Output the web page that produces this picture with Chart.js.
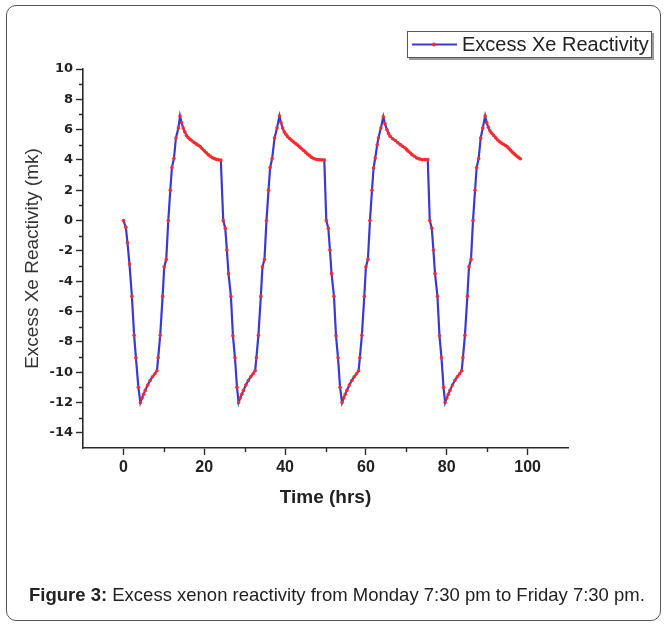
<!DOCTYPE html>
<html>
<head>
<meta charset="utf-8">
<script src="https://cdn.jsdelivr.net/npm/chart.js@4.4.1/dist/chart.umd.min.js"></script>
<style>
  html, body { margin: 0; padding: 0; background: #ffffff; }
  #wrap { position: relative; width: 668px; height: 626px; overflow: hidden; background: #fff; }
  #frame { position: absolute; left: 6px; top: 5px; width: 655px; height: 616px; border: 1px solid #555; border-radius: 10px; box-sizing: border-box; }
  #chart { position: absolute; left: 0; top: 0; }
  #caption { position: absolute; left: 29px; top: 585px; font-family: "Liberation Sans", Arial, sans-serif; font-size: 18.5px; line-height: 20px; color: #222; white-space: nowrap; }
  #caption b { font-weight: bold; }
</style>
</head>
<body>
<div id="wrap">
  <div id="frame"></div>
  <canvas id="chart" width="668" height="626"></canvas>
  <div id="caption"><b>Figure 3:</b> Excess xenon reactivity from Monday 7:30 pm to Friday 7:30 pm.</div>
</div>
<script>
// ---- data ----
const seriesLabel = 'Excess Xe Reactivity';
const xTitle = 'Time (hrs)';
const yTitle = 'Excess Xe Reactivity (mk)';

const timeHrs = [
  0, 0.6, 1.0, 1.5, 2.1, 2.65, 3.1, 3.7, 4.2,
  4.6, 5.0, 5.4, 6.0, 6.6, 7.2, 7.8, 8.3,
  8.6, 9.1, 9.7, 10.1, 10.6, 11.1, 11.6, 12.0, 12.5, 13.0, 13.6, 14.0,
  14.4, 14.8, 15.2, 15.6, 16.0, 16.5, 17.0, 17.5, 18.0, 18.5, 19.0, 19.5, 20.0, 20.5, 21.0, 21.5, 22.0, 22.5, 23.0, 23.5, 24.1,
  24.7, 25.2, 25.6, 26.0, 26.6, 27.1, 27.6, 28.1, 28.5,
  28.9, 29.3, 29.7, 30.3, 30.9, 31.5, 32.1, 32.6,
  32.9, 33.4, 34.0, 34.4, 34.9, 35.4, 35.9, 36.3, 36.8, 37.4, 38.0, 38.6,
  39.0, 39.4, 39.8, 40.2, 40.6, 41.1, 41.6, 42.1, 42.6, 43.1, 43.6, 44.1, 44.6, 45.1, 45.6, 46.1, 46.6, 47.1, 47.6, 48.1, 48.6, 49.1, 49.7,
  50.2, 50.7, 51.1, 51.5, 52.1, 52.6, 53.1, 53.6, 54.1,
  54.5, 54.9, 55.3, 55.9, 56.5, 57.1, 57.7, 58.2,
  58.5, 59.0, 59.6, 60.0, 60.5, 61.0, 61.5, 61.9, 62.3, 62.8, 63.1, 63.7, 64.3,
  64.7, 65.2, 65.6, 66.0, 66.6, 67.3, 67.9, 68.5, 69.1, 69.7, 70.1, 70.5, 71.0, 71.4, 72.0, 72.6, 73.2, 73.9, 74.6, 75.3,
  75.8, 76.3, 76.7, 77.1, 77.7, 78.2, 78.7, 79.2, 79.6,
  80.0, 80.4, 80.8, 81.4, 82.0, 82.6, 83.2, 83.7,
  84.0, 84.5, 85.1, 85.5, 86.0, 86.5, 87.0, 87.4, 87.9, 88.4, 88.9, 89.5,
  89.9, 90.3, 90.7, 91.1, 91.6, 92.1, 92.6, 93.1, 93.6, 94.1, 94.6, 95.0, 95.4, 95.8, 96.2, 96.6, 97.0, 97.4, 97.8, 98.2
];

const reactivityMk = [
  0, -0.44, -1.46, -2.87, -5.0, -7.57, -9.05, -11.0, -12.0,
  -11.7, -11.45, -11.2, -10.85, -10.55, -10.3, -10.1, -9.9,
  -9.05, -7.57, -5.0, -3.05, -2.56, 0.0, 2.0, 3.5, 4.1, 5.45, 6.1, 6.9,
  6.45, 6.1, 5.85, 5.62, 5.48, 5.36, 5.25, 5.15, 5.06, 4.97, 4.88, 4.74, 4.6, 4.47, 4.35, 4.24, 4.15, 4.09, 4.04, 4.01, 3.99,
  0.0, -0.5, -1.94, -3.5, -5.0, -7.6, -9.05, -11.0, -12.0,
  -11.7, -11.45, -11.2, -10.85, -10.55, -10.3, -10.1, -9.9,
  -9.05, -7.57, -5.0, -3.05, -2.56, 0.0, 2.0, 3.5, 4.1, 5.45, 6.1, 6.9,
  6.45, 6.1, 5.85, 5.7, 5.55, 5.42, 5.3, 5.18, 5.08, 4.98, 4.86, 4.74, 4.62, 4.5, 4.38, 4.27, 4.17, 4.1, 4.05, 4.02, 4.01, 4.0, 4.0,
  0.0, -0.5, -1.94, -3.5, -5.0, -7.6, -9.05, -11.0, -12.0,
  -11.7, -11.45, -11.2, -10.85, -10.55, -10.3, -10.1, -9.9,
  -9.05, -7.57, -5.0, -3.05, -2.56, 0.0, 2.0, 3.47, 4.13, 5.0, 5.45, 6.1, 6.85,
  6.4, 6.0, 5.75, 5.56, 5.4, 5.28, 5.14, 5.01, 4.9, 4.79, 4.68, 4.57, 4.46, 4.35, 4.24, 4.13, 4.07, 4.02, 4.02, 4.02,
  0.0, -0.5, -1.94, -3.5, -5.0, -7.6, -9.05, -11.0, -12.0,
  -11.7, -11.45, -11.2, -10.85, -10.55, -10.3, -10.1, -9.9,
  -9.05, -7.57, -5.0, -3.05, -2.56, 0.0, 2.0, 3.5, 4.1, 5.45, 6.1, 6.9,
  6.45, 6.15, 5.92, 5.78, 5.62, 5.46, 5.32, 5.2, 5.1, 5.02, 4.94, 4.86, 4.76, 4.64, 4.52, 4.42, 4.33, 4.24, 4.16, 4.08
];

const xTickValues = [0, 20, 40, 60, 80, 100];
const xMinorTicks = [10, 30, 50, 70, 90];
const yTickValues = [-14, -12, -10, -8, -6, -4, -2, 0, 2, 4, 6, 8, 10];
const yMinorTicks = [-13, -11, -9, -7, -5, -3, -1, 1, 3, 5, 7, 9];

// ---- chart ----
const points = timeHrs.map((t, i) => ({ x: t, y: reactivityMk[i] }));
const AXIS = '#2a2a2a';

const minorTicksPlugin = {
  id: 'minorTicks',
  afterDraw(chart) {
    const ctx = chart.ctx;
    const xs = chart.scales.x, ys = chart.scales.y;
    ctx.save();
    ctx.strokeStyle = AXIS;
    ctx.lineWidth = 1.4;
    ctx.beginPath();
    xMinorTicks.forEach(v => {
      const px = Math.round(xs.getPixelForValue(v)) + 0.5;
      ctx.moveTo(px, xs.top);
      ctx.lineTo(px, xs.top + 4);
    });
    yMinorTicks.forEach(v => {
      const py = Math.round(ys.getPixelForValue(v)) + 0.5;
      ctx.moveTo(ys.right, py);
      ctx.lineTo(ys.right - 4, py);
    });
    ctx.stroke();
    ctx.restore();
  }
};

const legendBoxPlugin = {
  id: 'legendBox',
  afterDraw(chart) {
    const ctx = chart.ctx;
    const ds = chart.data.datasets[0];
    const x = 407, y = 31, w = 245, h = 27;
    ctx.save();
    ctx.fillStyle = '#9a9a9a';
    ctx.fillRect(x + 2, y + 2, w, h);
    ctx.fillStyle = '#ffffff';
    ctx.fillRect(x, y, w, h);
    ctx.strokeStyle = '#555';
    ctx.lineWidth = 1;
    ctx.strokeRect(x + 0.5, y + 0.5, w - 1, h - 1);
    const ly = y + 13.5;
    ctx.strokeStyle = ds.borderColor;
    ctx.lineWidth = 2.2;
    ctx.beginPath();
    ctx.moveTo(x + 5, ly);
    ctx.lineTo(x + 50, ly);
    ctx.stroke();
    ctx.fillStyle = ds.pointBackgroundColor;
    ctx.beginPath();
    ctx.arc(x + 27, ly, 1.9, 0, Math.PI * 2);
    ctx.fill();
    ctx.fillStyle = '#222';
    ctx.font = '20px "Liberation Sans", Arial, sans-serif';
    ctx.textBaseline = 'middle';
    ctx.textAlign = 'left';
    ctx.fillText(ds.label, x + 55, ly + 1);
    ctx.restore();
  }
};

new Chart(document.getElementById('chart'), {
  type: 'line',
  data: {
    datasets: [{
      label: seriesLabel,
      data: points,
      borderColor: '#3a3ad0',
      borderWidth: 2.2,
      tension: 0,
      pointRadius: 1.8,
      pointBorderWidth: 0,
      pointBackgroundColor: '#ff2a2a',
      pointBorderColor: '#ff2a2a',
      fill: false
    }]
  },
  options: {
    responsive: false,
    animation: false,
    devicePixelRatio: 1,
    layout: { padding: { left: 0, top: 69, right: 100, bottom: 0 } },
    plugins: { legend: { display: false }, tooltip: { enabled: false } },
    scales: {
      x: {
        type: 'linear',
        min: -10,
        max: 110,
        afterBuildTicks: s => { s.ticks = xTickValues.map(v => ({ value: v })); },
        afterFit: s => { s.height = 178; },
        ticks: {
          autoSkip: false, maxRotation: 0, padding: 3, color: '#222',
          font: { family: '"Liberation Sans", Arial, sans-serif', weight: 'bold', size: 16 }
        },
        grid: { drawOnChartArea: false, drawTicks: true, tickLength: 7, color: AXIS, tickWidth: 1.4 },
        border: { display: true, color: AXIS, width: 1.6 },
        title: {
          display: true, text: xTitle, color: '#222',
          font: { family: '"Liberation Sans", Arial, sans-serif', weight: 'bold', size: 19 },
          padding: { top: 0, bottom: 116.6 }
        }
      },
      y: {
        type: 'linear',
        min: -15,
        max: 10,
        afterBuildTicks: s => { s.ticks = yTickValues.map(v => ({ value: v })); },
        afterFit: s => { s.width = 83; },
        ticks: {
          autoSkip: false, padding: 3, color: '#222',
          font: { family: '"DejaVu Sans", sans-serif', weight: 'bold', size: 13 }
        },
        grid: { drawOnChartArea: false, drawTicks: true, tickLength: 7, color: AXIS, tickWidth: 1.4 },
        border: { display: true, color: AXIS, width: 1.6 },
        title: {
          display: true, text: yTitle, color: '#333',
          font: { family: '"Liberation Sans", Arial, sans-serif', size: 19 },
          padding: { top: 21.6, bottom: 0 }
        }
      }
    }
  },
  plugins: [minorTicksPlugin, legendBoxPlugin]
});
</script>
</body>
</html>
